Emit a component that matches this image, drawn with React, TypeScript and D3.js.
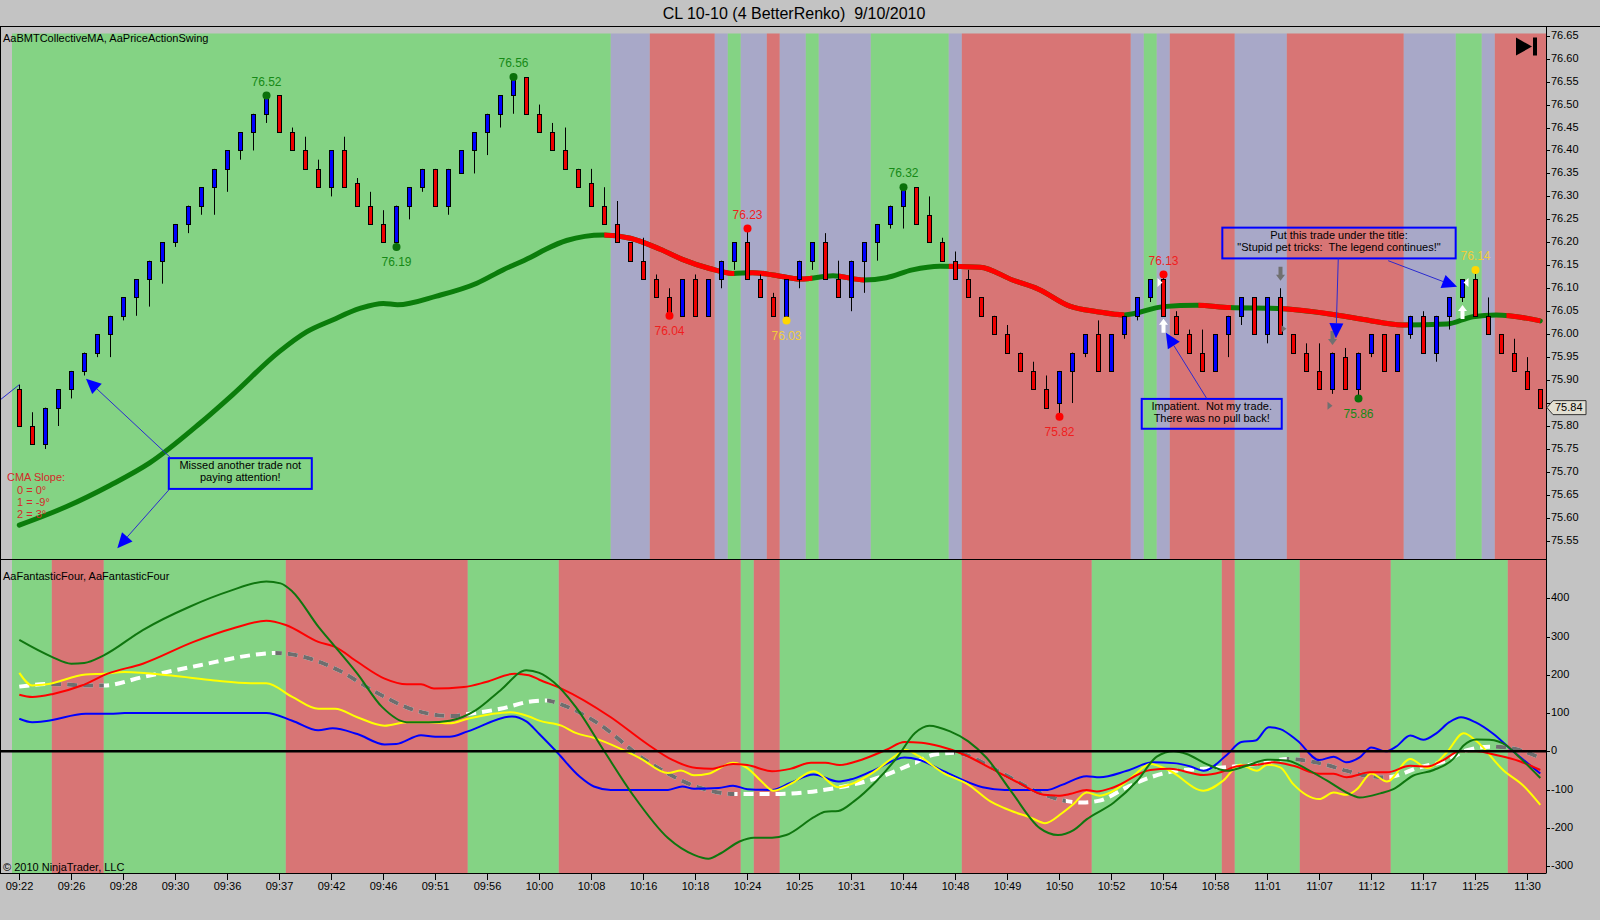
import * as d3 from 'd3';
import React from 'react';

document.body.style.margin = '0';

const FONT = 'Arial, "Liberation Sans", sans-serif';

// x axis labels, one every 4 bricks
const timeLabels = ['09:22', '09:26', '09:28', '09:30', '09:36', '09:37', '09:42', '09:46', '09:51', '09:56',
  '10:00', '10:08', '10:16', '10:18', '10:24', '10:25', '10:31', '10:44', '10:48', '10:49',
  '10:50', '10:52', '10:54', '10:58', '11:01', '11:07', '11:12', '11:17', '11:25', '11:30'];

// renko bricks
const opens = [75.88, 75.80, 75.76, 75.84, 75.88, 75.92, 75.96, 76.00, 76.04, 76.08,
  76.12, 76.16, 76.20, 76.24, 76.28, 76.32, 76.36, 76.40, 76.44, 76.48,
  76.52, 76.44, 76.40, 76.36, 76.32, 76.40, 76.33, 76.28, 76.24, 76.20,
  76.28, 76.32, 76.36, 76.28, 76.35, 76.40, 76.44, 76.48, 76.52, 76.56,
  76.48, 76.44, 76.40, 76.36, 76.33, 76.28, 76.24, 76.20, 76.16, 76.12,
  76.08, 76.04, 76.12, 76.04, 76.12, 76.16, 76.20, 76.12, 76.08, 76.04,
  76.12, 76.16, 76.20, 76.12, 76.08, 76.16, 76.20, 76.24, 76.28, 76.32,
  76.26, 76.20, 76.16, 76.12, 76.08, 76.04, 76.00, 75.96, 75.92, 75.88,
  75.85, 75.92, 75.96, 76.00, 75.92, 76.00, 76.04, 76.08, 76.12, 76.04,
  76.00, 75.96, 75.92, 76.00, 76.04, 76.08, 76.00, 76.08, 76.00, 75.96,
  75.92, 75.88, 75.95, 75.88, 75.96, 76.00, 75.92, 76.00, 76.04, 75.96,
  76.04, 76.08, 76.12, 76.04, 76.00, 75.96, 75.92, 75.88];
const closes = [75.80, 75.76, 75.84, 75.88, 75.92, 75.96, 76.00, 76.04, 76.08, 76.12,
  76.16, 76.20, 76.24, 76.28, 76.32, 76.36, 76.40, 76.44, 76.48, 76.52,
  76.44, 76.40, 76.36, 76.32, 76.40, 76.32, 76.28, 76.24, 76.20, 76.28,
  76.32, 76.36, 76.28, 76.36, 76.40, 76.44, 76.48, 76.52, 76.56, 76.48,
  76.44, 76.40, 76.36, 76.32, 76.28, 76.24, 76.20, 76.16, 76.12, 76.08,
  76.04, 76.12, 76.04, 76.12, 76.16, 76.20, 76.12, 76.08, 76.04, 76.12,
  76.16, 76.20, 76.12, 76.08, 76.16, 76.20, 76.24, 76.28, 76.32, 76.24,
  76.20, 76.16, 76.12, 76.08, 76.04, 76.00, 75.96, 75.92, 75.88, 75.84,
  75.92, 75.96, 76.00, 75.92, 76.00, 76.04, 76.08, 76.12, 76.04, 76.00,
  75.96, 75.92, 76.00, 76.04, 76.08, 76.00, 76.08, 76.00, 75.96, 75.92,
  75.88, 75.96, 75.88, 75.96, 76.00, 75.92, 76.00, 76.04, 75.96, 76.04,
  76.08, 76.12, 76.04, 76.00, 75.96, 75.92, 75.88, 75.84];
const highs = [75.89, 75.83, 75.84, 75.88, 75.92, 75.96, 76.00, 76.04, 76.08, 76.12,
  76.16, 76.20, 76.24, 76.28, 76.32, 76.36, 76.40, 76.44, 76.48, 76.52,
  76.52, 76.45, 76.43, 76.38, 76.40, 76.43, 76.34, 76.31, 76.27, 76.28,
  76.32, 76.36, 76.36, 76.36, 76.40, 76.44, 76.48, 76.52, 76.56, 76.56,
  76.50, 76.46, 76.45, 76.36, 76.36, 76.32, 76.29, 76.20, 76.21, 76.13,
  76.10, 76.12, 76.13, 76.12, 76.16, 76.20, 76.23, 76.13, 76.09, 76.12,
  76.16, 76.20, 76.22, 76.16, 76.16, 76.20, 76.24, 76.28, 76.32, 76.32,
  76.30, 76.21, 76.18, 76.14, 76.08, 76.04, 76.02, 75.96, 75.94, 75.91,
  75.92, 75.96, 76.00, 76.03, 76.00, 76.04, 76.08, 76.12, 76.13, 76.05,
  76.01, 76.01, 76.00, 76.04, 76.08, 76.08, 76.08, 76.10, 76.00, 75.98,
  75.98, 75.96, 75.97, 75.96, 76.00, 76.00, 76.00, 76.04, 76.05, 76.04,
  76.08, 76.12, 76.14, 76.08, 76.00, 75.99, 75.95, 75.88];
const lows = [75.80, 75.76, 75.75, 75.80, 75.86, 75.91, 75.95, 75.95, 76.03, 76.04,
  76.06, 76.11, 76.19, 76.22, 76.26, 76.26, 76.31, 76.38, 76.40, 76.46,
  76.44, 76.40, 76.36, 76.32, 76.30, 76.32, 76.28, 76.24, 76.20, 76.19,
  76.25, 76.31, 76.28, 76.26, 76.35, 76.35, 76.39, 76.45, 76.48, 76.48,
  76.44, 76.40, 76.36, 76.32, 76.28, 76.24, 76.20, 76.16, 76.12, 76.08,
  76.04, 76.04, 76.04, 76.04, 76.10, 76.14, 76.12, 76.08, 76.04, 76.03,
  76.10, 76.14, 76.12, 76.08, 76.05, 76.09, 76.16, 76.23, 76.23, 76.24,
  76.20, 76.16, 76.12, 76.08, 76.04, 76.00, 75.96, 75.92, 75.88, 75.84,
  75.82, 75.85, 75.95, 75.92, 75.92, 75.99, 76.03, 76.07, 76.04, 76.00,
  75.96, 75.92, 75.92, 75.95, 76.02, 76.00, 75.98, 76.00, 75.96, 75.92,
  75.88, 75.87, 75.88, 75.86, 75.95, 75.92, 75.92, 75.99, 75.96, 75.94,
  76.01, 76.07, 76.04, 76.00, 75.96, 75.92, 75.88, 75.84];

// collective moving average: [brick, price]
const cmaPoints = [[0, 75.584], [3.6, 75.624], [7, 75.671], [10, 75.719], [13.9, 75.806], [16.4, 75.868],
  [20, 75.962], [22.1, 76.005], [24.1, 76.031], [26.2, 76.056], [28, 76.067], [29.1, 76.064],
  [32.1, 76.083], [35.2, 76.111], [37.2, 76.14], [39.3, 76.167], [40.5, 76.185], [42.1, 76.204],
  [44.9, 76.216], [47, 76.209], [49.3, 76.185], [51, 76.163], [53.1, 76.143], [54.9, 76.132],
  [56.4, 76.134], [58, 76.129], [60.1, 76.12], [62.6, 76.127], [65, 76.118], [66.7, 76.123],
  [68.7, 76.14], [70.8, 76.148], [73.9, 76.146], [76.4, 76.118], [78.4, 76.098], [80.8, 76.061],
  [82.9, 76.049], [85, 76.042], [88, 76.06], [90.6, 76.063], [93.1, 76.058], [96.8, 76.056],
  [100.8, 76.044], [103.4, 76.032], [106.4, 76.02], [109.8, 76.022], [111.8, 76.038],
  [113.6, 76.042], [117, 76.029]];
const cmaDownRanges = [[45, 55], [56.2, 61], [63, 65], [71.5, 85], [90.7, 93.2], [97, 107], [114.4, 118]];

// background state per brick range
const upperBands = [[0, 45, 'g'], [46, 48, 'p'], [49, 53, 'r'], [54, 54, 'p'], [55, 55, 'g'], [56, 57, 'p'],
  [58, 58, 'r'], [59, 60, 'p'], [61, 61, 'g'], [62, 65, 'p'], [66, 71, 'g'], [72, 72, 'p'], [73, 85, 'r'],
  [86, 86, 'p'], [87, 87, 'g'], [88, 88, 'p'], [89, 93, 'r'], [94, 97, 'p'], [98, 106, 'r'], [107, 110, 'p'],
  [111, 112, 'g'], [113, 113, 'p'], [114, 117, 'r']];
const lowerBands = [[0, 2, 'g'], [3, 6, 'r'], [7, 20, 'g'], [21, 34, 'r'], [35, 41, 'g'], [42, 55, 'r'],
  [56, 56, 'g'], [57, 58, 'r'], [59, 72, 'g'], [73, 82, 'r'], [83, 92, 'g'], [93, 93, 'r'], [94, 98, 'g'],
  [99, 105, 'r'], [106, 114, 'g'], [115, 117, 'r']];

// swing points
const swingBars = [19, 38, 29, 50, 56, 59, 68, 80, 88, 103, 112];
const swingPrices = [76.52, 76.56, 76.19, 76.04, 76.23, 76.03, 76.32, 75.82, 76.13, 75.86, 76.14];
const swingHigh = [true, true, false, false, true, false, true, false, true, false, true];
const swingTone = ['g', 'g', 'g', 'r', 'r', 'y', 'g', 'r', 'r', 'g', 'y'];

const priceTickLabels = ['76.65', '76.60', '76.55', '76.50', '76.45', '76.40', '76.35', '76.30', '76.25',
  '76.20', '76.15', '76.10', '76.05', '76.00', '75.95', '75.90', '75.85', '75.80', '75.75', '75.70',
  '75.65', '75.60', '75.55'];
const oscTickLabels = ['400', '300', '200', '100', '0', '-100', '-200', '-300'];

// AaFantasticFour lines: [brick, value]
const oscGreen = [[0, 291], [2.5, 247], [4, 229], [5, 231], [6.5, 251], [9.5, 317], [13.1, 378], [16.1, 418],
  [19, 444], [20.1, 439], [21, 418], [23, 326], [24.3, 273], [26, 203], [27.9, 116], [29.8, 76], [31.5, 76],
  [33.1, 80], [35.1, 107], [37, 159], [39, 212], [40, 205], [41.1, 181], [42.8, 116], [45, 0], [47.2, -114],
  [49.9, -227], [51.9, -271], [53, -281], [54, -266], [55.4, -236], [56.5, -226], [57.9, -226], [59, -219],
  [61.2, -171], [62, -158], [63, -156], [64.2, -131], [65.9, -79], [67.5, -17], [68.9, 48], [70, 67],
  [71.6, 52], [73, 26], [74.4, -17], [76.3, -105], [78.5, -201], [79.9, -219], [81.1, -206], [82.1, -178],
  [84.2, -134], [86, -77], [87.5, -14], [88.8, 0], [89.8, -7], [91.3, -33], [92.9, -51], [94.4, -38],
  [96, -22], [97.5, -24], [99, -46], [100.6, -77], [102.6, -116], [103.1, -121], [104.7, -110],
  [105.7, -99], [107.2, -64], [108.8, -49], [110.3, -20], [111.1, 15], [112.1, 31], [113.1, 30],
  [114.4, 15], [115.4, -16], [117, -70]];
const oscRed = [[0, 148], [1, 142], [2.6, 150], [4.8, 172], [6.8, 203], [9.5, 229], [13.4, 286], [16.4, 321],
  [19, 341], [20.5, 330], [23, 286], [24.3, 273], [26, 234], [28.1, 190], [29.8, 175], [30.9, 175],
  [31.9, 164], [34.2, 168], [35.9, 181], [38.1, 203], [39.2, 199], [40, 187], [41.7, 164], [45.5, 89],
  [48.3, 19], [50.2, -22], [52.1, -44], [53.2, -46], [54.9, -33], [56, -36], [57.9, -52], [59.3, -46],
  [60.9, -30], [62, -30], [63.1, -36], [64.8, -22], [66.7, 4], [68.1, 24], [69.4, 22], [70.8, 13],
  [72.7, -9], [74.7, -44], [76.9, -83], [78.8, -114], [79.9, -116], [80.8, -112], [82.1, -101],
  [82.9, -105], [84.2, -94], [87, -49], [88.5, -46], [91.1, -62], [92.4, -55], [93.6, -40], [95.2, -35],
  [96.5, -29], [98, -38], [100, -59], [101.1, -59], [102.1, -68], [103.9, -55], [105.2, -55], [107, -38],
  [108.3, -40], [109.5, -24], [110.8, 0], [112.1, 0], [113.6, -10], [115.4, -26], [117, -49]];
const oscYellow = [[0, 205], [1, 172], [2.1, 175], [5.1, 201], [6.5, 203], [8.1, 207], [11.7, 198], [15, 185],
  [17.8, 178], [19, 178], [21, 142], [23, 111], [24.3, 111], [26, 89], [28.1, 67], [29.8, 76], [31.5, 76],
  [33.1, 73], [34.5, 85], [37.8, 102], [39.2, 91], [40, 80], [41.7, 67], [42.8, 48], [44.2, 35], [46.1, 9],
  [47.7, -17], [49.9, -57], [50.9, -50], [51.9, -63], [53, -59], [54.9, -30], [56, -44], [57.1, -79],
  [58, -103], [59.3, -86], [61.1, -52], [63, -94], [63.9, -87], [65.6, -57], [67.5, -9], [68.1, 4],
  [69.2, -13], [71.1, -57], [73, -87], [74.7, -131], [75.8, -149], [77.9, -175], [78.9, -188], [80.2, -162],
  [81.1, -138], [82.1, -108], [83.1, -116], [84.4, -99], [85.7, -64], [87, -33], [88.5, -51], [91.1, -103],
  [92.6, -77], [93.9, -35], [95.2, -51], [96, -35], [97, -42], [98, -86], [100, -125], [101.1, -108],
  [102.1, -114], [102.9, -99], [104, -58], [105.2, -79], [107, -20], [108.3, -44], [109.8, -3], [111.1, 47],
  [112.1, 26], [114.2, -51], [115.7, -90], [117, -140]];
const oscBlue = [[0, 85], [1, 76], [2.1, 79], [5.1, 98], [7, 98], [8.1, 100], [19, 100], [21, 80], [23, 55],
  [24.1, 60], [26, 45], [28.1, 18], [29, 19], [30.9, 42], [32, 38], [33.1, 38], [34.5, 52], [37.9, 91],
  [39, 78], [40, 45], [41.4, -4], [43.1, -66], [44.2, -92], [45.5, -101], [49.9, -101], [51, -92],
  [51.9, -98], [53.8, -96], [54.9, -90], [56, -99], [57.9, -101], [59.3, -83], [61.1, -61], [63, -79],
  [63.9, -74], [65.6, -52], [68.1, -16], [69.2, -22], [71.1, -52], [74.1, -94], [75.8, -101], [79.1, -101],
  [80.2, -88], [82.1, -65], [83.1, -68], [85.2, -51], [87.2, -29], [88.8, -31], [90.1, -40], [91.1, -51],
  [92.9, -9], [94, 24], [95.1, 28], [96.1, 63], [97, 58], [98.3, 28], [100, -23], [101.1, -14], [102.1, -29],
  [103.1, -16], [104, 10], [105.1, 0], [105.9, 12], [107, 41], [108, 30], [109, 47], [110, 76], [110.9, 89],
  [112, 76], [113.4, 45], [114.7, 6], [117, -58]];
const oscSignal = [[0, 169], [2.4, 176], [5.4, 172], [6.5, 172], [9.5, 194], [13.9, 225], [17.8, 251],
  [19.7, 257], [22.4, 242], [24.6, 211], [27.4, 155], [30.1, 111], [33.4, 92], [34.2, 96], [37, 111],
  [39.5, 131], [40.6, 133], [41.1, 129], [44.2, 80], [48.3, -26], [52.4, -96], [55, -112], [57.9, -112],
  [62.8, -96], [65.6, -74], [68.9, -30], [70.3, -9], [71.9, -4], [75.8, -61], [78.5, -109], [80.7, -131],
  [81.8, -134], [83.1, -129], [85.2, -94], [87.2, -66], [89, -51], [91.1, -46], [93.4, -40], [96, -29],
  [97.5, -20], [100, -31], [102.1, -51], [103.6, -64], [105.2, -68], [107.7, -42], [109.8, -24],
  [111.3, 2], [113.1, 12], [114.4, 10], [117, -17]];
const signalFallRanges = [[2.4, 6.5], [19.7, 34], [40.6, 55], [71.9, 80.5], [97.5, 105.2], [113.5, 118]];

const BG = '#c3c3c3';
const bandFill = { g: '#84d384', p: '#a8a8c8', r: '#d87575' };
const swingText = { g: '#168a16', r: '#f01e1e', y: '#f0cc3c' };
const swingDot = { g: '#0a700a', r: '#ff0000', y: '#ffd700' };

const plotL = 12;
const plotR = 1546;
const upTop = 33.5;
const upBot = 559;
const loTop = 560;
const loBot = 873;

const x = d3.scaleLinear().domain([0, 117]).range([19.3, 19.3 + 13 * 117]);
const yP = d3.scaleLinear().domain([75.55, 76.65]).range([540.8, 35.7]);
const yO = d3.scaleLinear().domain([-300, 400]).range([866, 598.3]);

const cmaLine = d3.line().x((d: any) => x(d[0])).y((d: any) => yP(d[1])).curve(d3.curveMonotoneX);
const oscLine = d3.line().x((d: any) => x(d[0])).y((d: any) => yO(d[1])).curve(d3.curveMonotoneX);

const bandX = (a: number, b: number) => {
  const x0 = a === 0 ? plotL : x(a) - 6.5;
  const x1 = Math.min(plotR, x(b) + 6.5);
  return [x0, x1];
};

const Arrow = ({ sx, sy, tx, ty }: any) => {
  const dx = tx - sx;
  const dy = ty - sy;
  const d = Math.hypot(dx, dy);
  const ux = dx / d;
  const uy = dy / d;
  const len = 15;
  const half = 7;
  const bx = tx - ux * len;
  const by = ty - uy * len;
  const pts = `${tx},${ty} ${bx - uy * half},${by + ux * half} ${bx + uy * half},${by - ux * half}`;
  return (
    <g>
      <line x1={sx} y1={sy} x2={bx} y2={by} stroke="#2a2ad0" strokeWidth={1} />
      <polygon points={pts} fill="#0000ff" />
    </g>
  );
};

const blockArrow = (cx: number, tip: number, dir: number) => {
  const p = [[0, 0], [4.5, 6], [2, 6], [2, 14], [-2, 14], [-2, 6], [-4.5, 6]];
  return p.map(([a, b]) => `${cx + a},${tip + dir * b}`).join(' ');
};

const NoteBox = ({ x0, x1, y0, y1, lines }: any) => (
  <g>
    <rect x={x0} y={y0} width={x1 - x0} height={y1 - y0} fill="none" stroke="#0000ff" strokeWidth={2} />
    {lines.map((t: string, i: number) => (
      <text key={i} x={(x0 + x1) / 2} y={y0 + 8 + i * 12} textAnchor="middle" dominantBaseline="middle"
        fontSize={11} fill="#000" style={{ whiteSpace: 'pre' }}>{t}</text>
    ))}
  </g>
);

export default function App() {
  const cx = (i: number) => Math.round(x(i)) + 0.5;
  const lastClose = closes[closes.length - 1];
  const markerY = yP(lastClose);
  return (
    <svg width={1600} height={920} style={{ display: 'block', fontFamily: FONT }}>
      <defs>
        <clipPath id="upClip"><rect x={plotL} y={upTop} width={plotR - plotL} height={upBot - upTop} /></clipPath>
        <clipPath id="loClip"><rect x={plotL} y={loTop} width={plotR - plotL} height={loBot - loTop} /></clipPath>
        <clipPath id="cmaDown">
          {cmaDownRanges.map(([a, b], i) => (
            <rect key={i} x={x(a)} y={upTop} width={x(b) - x(a)} height={upBot - upTop} />
          ))}
        </clipPath>
        <clipPath id="sigFall">
          {signalFallRanges.map(([a, b], i) => (
            <rect key={i} x={x(a)} y={loTop} width={x(b) - x(a)} height={loBot - loTop} />
          ))}
        </clipPath>
      </defs>
      <rect x={0} y={0} width={1600} height={920} fill={BG} />

      <text x={794} y={19} textAnchor="middle" fontSize={16} fill="#000" style={{ whiteSpace: 'pre' }}>
        {'CL 10-10 (4 BetterRenko)  9/10/2010'}
      </text>

      {/* backgrounds */}
      {upperBands.map(([a, b, c]: any, i) => {
        const [x0, x1] = bandX(a, b);
        return <rect key={'ub' + i} x={x0} y={upTop} width={x1 - x0} height={upBot - upTop} fill={bandFill[c]} />;
      })}
      {lowerBands.map(([a, b, c]: any, i) => {
        const [x0, x1] = bandX(a, b);
        return <rect key={'lb' + i} x={x0} y={loTop} width={x1 - x0} height={loBot - loTop} fill={bandFill[c]} />;
      })}

      {/* upper panel */}
      <g clipPath="url(#upClip)">
        <path d={cmaLine(cmaPoints as any) || ''} fill="none" stroke="#0b7d0b" strokeWidth={5} strokeLinecap="round" />
        <path d={cmaLine(cmaPoints as any) || ''} fill="none" stroke="#ff0000" strokeWidth={5} clipPath="url(#cmaDown)" />
      </g>
      <line x1={0} y1={400} x2={x(0)} y2={yP(highs[0])} stroke="#2a2ad0" strokeWidth={1} />
      {opens.map((o, i) => {
        const c = closes[i];
        const top = Math.round(yP(Math.max(o, c))) + 0.5;
        const bot = Math.round(yP(Math.min(o, c))) + 0.5;
        return (
          <g key={'c' + i}>
            <line x1={cx(i)} x2={cx(i)} y1={yP(highs[i])} y2={yP(lows[i])} stroke="#000" strokeWidth={1} />
            <rect x={cx(i) - 2} y={top} width={4} height={bot - top} fill={c > o ? '#0000ff' : '#ee0000'}
              stroke="#000" strokeWidth={1} />
          </g>
        );
      })}

      {swingBars.map((b, i) => {
        const py = yP(swingPrices[i]);
        const ty = swingHigh[i] ? py - 13 : py + 16;
        return (
          <g key={'s' + i}>
            <circle cx={cx(b)} cy={py} r={4} fill={swingDot[swingTone[i]]} />
            <text x={cx(b)} y={ty} textAnchor="middle" dominantBaseline="middle" fontSize={12}
              fill={swingText[swingTone[i]]}>{swingPrices[i].toFixed(2)}</text>
          </g>
        );
      })}

      {/* trade markers */}
      {[88, 111].map((b) => (
        <polygon key={'wu' + b} points={blockArrow(cx(b), yP(lows[b]) + 3, 1)} fill="#ffffff" />
      ))}
      <polygon points={`${cx(88) - 6},${yP(76.12) - 1} ${cx(88) - 6},${yP(76.12) + 8} ${cx(88) - 1},${yP(76.12) + 3.5}`} fill="#fff" />
      <polygon points={`${cx(111) + 6},${yP(76.12) - 1} ${cx(111) + 6},${yP(76.12) + 8} ${cx(111) + 1},${yP(76.12) + 3.5}`} fill="#fff" />
      {[97, 101].map((b) => (
        <polygon key={'gd' + b} points={blockArrow(cx(b), yP(highs[b]) - 7.5, -1)} fill="#707070" />
      ))}
      <polygon points={`${cx(97) + 1},${yP(76.0) - 9} ${cx(97) + 1},${yP(76.0) - 2} ${cx(97) + 6},${yP(76.0) - 5.5}`} fill="#707070" />
      <polygon points={`${cx(101) - 5},${yP(lows[101]) + 8} ${cx(101) - 5},${yP(lows[101]) + 16} ${cx(101)},${yP(lows[101]) + 12}`} fill="#707070" />

      {/* notes */}
      <NoteBox x0={x(11.5)} x1={x(22.5)} y0={yP(75.73)} y1={yP(75.663)}
        lines={['Missed another trade not', 'paying attention!']} />
      <Arrow sx={x(11.6)} sy={yP(75.732)} tx={x(5.13)} ty={yP(75.903)} />
      <Arrow sx={x(11.54)} sy={yP(75.662)} tx={x(7.54)} ty={yP(75.534)} />
      <NoteBox x0={x(86.34)} x1={x(97.11)} y0={yP(75.859)} y1={yP(75.794)}
        lines={['Impatient.  Not my trade.', 'There was no pull back!']} />
      <Arrow sx={x(91.34)} sy={yP(75.86)} tx={x(88.2)} ty={yP(76.003)} />
      <NoteBox x0={x(92.54)} x1={x(110.49)} y0={yP(76.232)} y1={yP(76.165)}
        lines={['Put this trade under the title:', '"Stupid pet tricks:  The legend continues!"']} />
      <Arrow sx={x(101.46)} sy={yP(76.165)} tx={x(101.28)} ty={yP(75.991)} />
      <Arrow sx={x(105.3)} sy={yP(76.16)} tx={x(110.6)} ty={yP(76.103)} />

      <g fill="#d42a2a" fontSize={11}>
        <text x={7} y={478} dominantBaseline="middle">CMA Slope:</text>
        <text x={17} y={491} dominantBaseline="middle">0 = 0°</text>
        <text x={17} y={503} dominantBaseline="middle">1 = -9°</text>
        <text x={17} y={515} dominantBaseline="middle">2 = 3°</text>
      </g>

      {/* end-of-chart icon */}
      <polygon points="1516,37.5 1516,55.5 1532,46.5" fill="#000" />
      <rect x={1533} y={37.5} width={4} height={18} fill="#000" />

      <text x={3} y={39} dominantBaseline="middle" fontSize={11} fill="#000">AaBMTCollectiveMA, AaPriceActionSwing</text>

      {/* lower panel */}
      <g clipPath="url(#loClip)">
        <path d={oscLine(oscSignal as any) || ''} fill="none" stroke="#ffffff" strokeWidth={4} strokeDasharray="10 6" />
        <path d={oscLine(oscSignal as any) || ''} fill="none" stroke="#6e6e6e" strokeWidth={4} strokeDasharray="10 6" clipPath="url(#sigFall)" />
        <path d={oscLine(oscBlue as any) || ''} fill="none" stroke="#0000ff" strokeWidth={2} />
        <path d={oscLine(oscYellow as any) || ''} fill="none" stroke="#ffff00" strokeWidth={2} />
        <path d={oscLine(oscRed as any) || ''} fill="none" stroke="#ff0000" strokeWidth={2} />
        <path d={oscLine(oscGreen as any) || ''} fill="none" stroke="#0f760f" strokeWidth={2} />
      </g>
      <line x1={0} x2={plotR} y1={yO(0)} y2={yO(0)} stroke="#000" strokeWidth={2.5} />
      <text x={3} y={577} dominantBaseline="middle" fontSize={11} fill="#000">AaFantasticFour, AaFantasticFour</text>
      <text x={3} y={868} dominantBaseline="middle" fontSize={11} fill="#000">© 2010 NinjaTrader, LLC</text>

      {/* frame */}
      <line x1={0} x2={1600} y1={26.5} y2={26.5} stroke="#000" />
      <line x1={0} x2={plotR} y1={559.5} y2={559.5} stroke="#000" />
      <line x1={0} x2={plotR} y1={873.5} y2={873.5} stroke="#000" />
      <line x1={0.5} x2={0.5} y1={26.5} y2={873.5} stroke="#000" />
      <line x1={plotR + 0.5} x2={plotR + 0.5} y1={26.5} y2={873.5} stroke="#000" />

      {/* price axis; the label under the last-price marker is hidden by it */}
      {priceTickLabels.map((t) => {
        const yy = Math.round(yP(+t)) + 0.5;
        const hidden = Math.abs(yy - markerY) < 12;
        return (
          <g key={'pt' + t}>
            <line x1={plotR} x2={plotR + 4} y1={yy} y2={yy} stroke="#000" />
            {!hidden && (
              <text x={plotR + 5} y={yy} dominantBaseline="middle" fontSize={11} fill="#000">{t}</text>
            )}
          </g>
        );
      })}
      <polygon
        points={`${plotR + 1},${markerY} ${plotR + 7},${markerY - 7} ${plotR + 40},${markerY - 7} ${plotR + 40},${markerY + 7} ${plotR + 7},${markerY + 7}`}
        fill="#e2dfd2" stroke="#333" strokeWidth={1} />
      <text x={plotR + 9} y={markerY} dominantBaseline="middle" fontSize={11} fill="#000">{lastClose.toFixed(2)}</text>

      {/* oscillator axis */}
      {oscTickLabels.map((t) => {
        const yy = Math.round(yO(+t)) + 0.5;
        return (
          <g key={'ot' + t}>
            <line x1={plotR} x2={plotR + 4} y1={yy} y2={yy} stroke="#000" />
            <text x={plotR + 5} y={yy} dominantBaseline="middle" fontSize={11} fill="#000">{t}</text>
          </g>
        );
      })}

      {/* time axis */}
      {timeLabels.map((t, k) => {
        const xx = cx(k * 4);
        return (
          <g key={'tl' + k}>
            <line x1={xx} x2={xx} y1={873.5} y2={880} stroke="#000" />
            <text x={xx} y={887} textAnchor="middle" dominantBaseline="middle" fontSize={11} fill="#000">{t}</text>
          </g>
        );
      })}
    </svg>
  );
}
